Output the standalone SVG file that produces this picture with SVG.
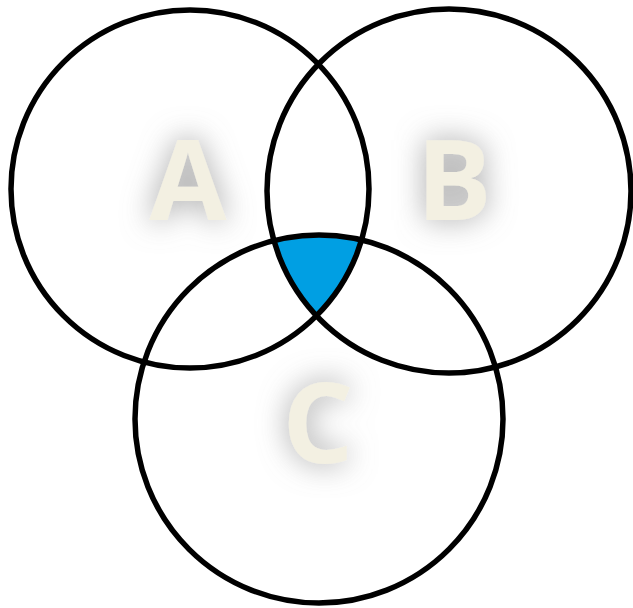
<svg xmlns="http://www.w3.org/2000/svg" width="633" height="608" viewBox="0 0 633 608">
<style>
.ring{fill:none;stroke:#000;stroke-width:5.5}
.lbl{font-family:"Open Sans","Liberation Sans",sans-serif;font-weight:bold;font-size:112px;fill:#F3F0E2;text-anchor:middle;filter:url(#glow)}
</style>
<defs>
<filter id="glow" x="-80%" y="-80%" width="260%" height="260%">
<feFlood flood-color="#8f8f8f" flood-opacity="0.85"/>
<feComposite in2="SourceAlpha" operator="in"/>
<feGaussianBlur stdDeviation="15"/>
<feMerge><feMergeNode/><feMergeNode in="SourceGraphic"/></feMerge>
</filter>
</defs>
<rect width="633" height="608" fill="#fff"/>
<path id="overlap" d="M275.2,240.3 A183,183 0 0 1 361.6,240 A179,179 0 0 1 317.6,314.5 A181,181 0 0 1 275.2,240.3 Z" fill="#009FE3"/>
<g id="A"><circle class="ring" cx="190" cy="189" r="179"/><text class="lbl" x="188" y="220">A</text></g>
<g id="B"><circle class="ring" cx="449" cy="191" r="182"/><text class="lbl" x="454" y="220">B</text></g>
<g id="C"><circle class="ring" cx="319" cy="419" r="184"/><text class="lbl" x="318" y="463">C</text></g>
</svg>
